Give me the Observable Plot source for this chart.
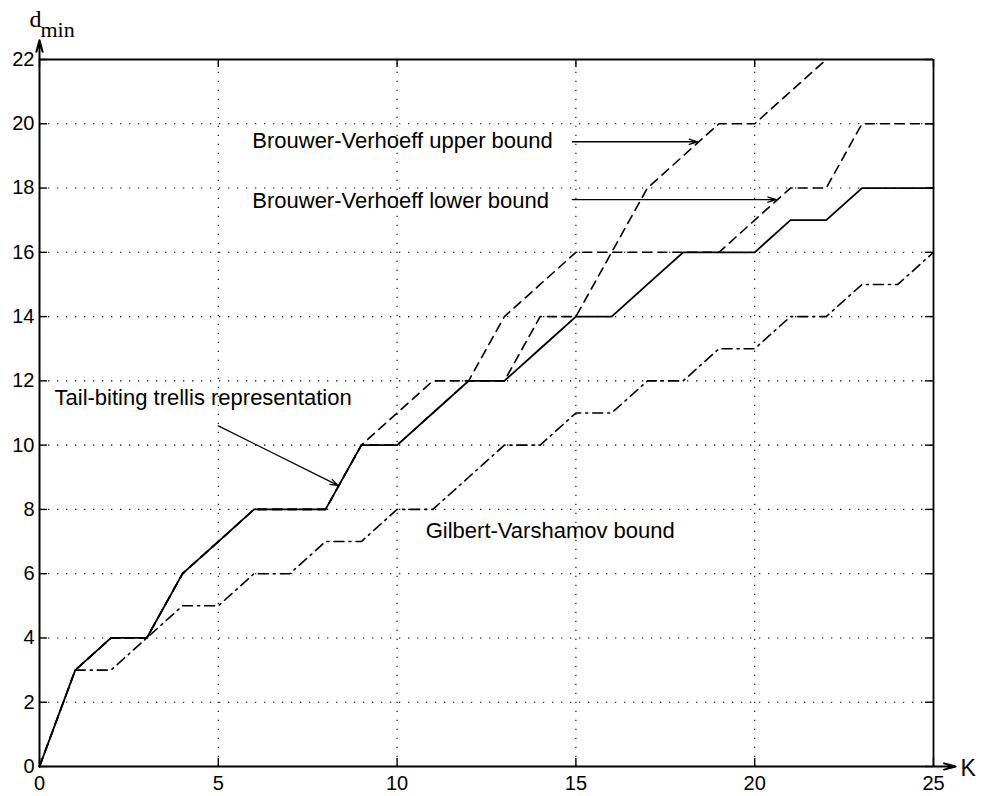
<!DOCTYPE html>
<html><head><meta charset="utf-8">
<script src="https://cdn.jsdelivr.net/npm/d3@7"></script>
<script src="https://cdn.jsdelivr.net/npm/@observablehq/plot@0.6"></script>
<style>body{margin:0;background:#fff} #chart svg{display:block}</style>
</head><body><div id="chart"></div>
<script>
// K values and curves (d_min)
const K = d3.range(0, 26);
const tailBiting = [0,3,4,4,6,7,8,8,8,10,10,11,12,12,13,14,14,15,16,16,16,17,17,18,18,18];
const bvLower    = [0,3,4,4,6,7,8,8,8,10,11,12,12,14,15,16,16,16,16,16,17,18,18,20,20,20];
const bvUpperK = d3.range(0, 23);
const bvUpper    = [0,3,4,4,6,7,8,8,8,10,10,11,12,12,14,14,16,18,19,20,20,21,22];
const gvK = d3.range(1, 26);
const gilbertVarshamov = [3,3,4,5,5,6,6,7,7,8,8,9,10,10,11,11,12,12,13,13,14,14,15,15,16];
const xTicks = [0,5,10,15,20,25];
const yTicks = [0,2,4,6,8,10,12,14,16,18,20,22];

const labelText = ["Brouwer-Verhoeff upper bound","Brouwer-Verhoeff lower bound","Tail-biting trellis representation","Gilbert-Varshamov bound"];
const labelX = [5.95, 5.95, 0.42, 10.8];
const labelY = [19.47, 17.6, 11.48, 7.34];
const arrowFrom = [[14.9,19.44],[14.9,17.64],[5.0,10.6]];
const arrowTo   = [[18.4,19.44],[20.6,17.64],[8.36,8.74]];

const xMax = 25, yMax = 22;
const W = 982, H = 796, mL = 39, mR = 49, mT = 59, mB = 30;
const tx = 8 * xMax / (W - mL - mR);   // tick length in x units
const ty = 8 * yMax / (H - mT - mB);   // tick length in y units
const toRows = (ks, vs) => ks.map((k, i) => ({k, d: vs[i]}));
const labels = labelText.map((t, i) => ({t, x: labelX[i], y: labelY[i]}));
const arrows = arrowFrom.map((a, i) => ({x1: a[0], y1: a[1], x2: arrowTo[i][0], y2: arrowTo[i][1]}));

const sans = "Liberation Sans, Arial, sans-serif";
const serif = "Liberation Serif, serif";
const tickStyle = {stroke: "#000", strokeWidth: 1.4};
const gridStyle = {stroke: "#000", strokeWidth: 1.1, strokeDasharray: "1.3,7.7"};
const chart = Plot.plot({
  width: W, height: H,
  marginLeft: mL, marginRight: mR, marginTop: mT, marginBottom: mB,
  style: {fontFamily: sans, fontSize: "20px", color: "#000", background: "#fff"},
  x: {type: "linear", domain: [0, xMax], ticks: xTicks, tickSize: 0, tickPadding: 9, label: null},
  y: {type: "linear", domain: [0, yMax], ticks: yTicks, tickSize: 0, tickPadding: 5, label: null},
  marks: [
    // dotted grid
    Plot.ruleX(xTicks.filter(v => v > 0 && v < xMax), {x: d => d, y1: 0, y2: yMax, ...gridStyle}),
    Plot.ruleY(yTicks.filter(v => v > 0 && v < yMax), {y: d => d, x1: 0, x2: xMax, ...gridStyle}),
    // inward ticks
    Plot.ruleX(xTicks, {x: d => d, y1: 0, y2: ty, ...tickStyle}),
    Plot.ruleX(xTicks, {x: d => d, y1: yMax, y2: yMax - ty, ...tickStyle}),
    Plot.ruleY(yTicks, {y: d => d, x1: 0, x2: tx, ...tickStyle}),
    Plot.ruleY(yTicks, {y: d => d, x1: xMax, x2: xMax - tx, ...tickStyle}),
    // frame: top and right
    Plot.ruleY([yMax], {x1: 0, x2: xMax, stroke: "#000", strokeWidth: 1.8}),
    Plot.ruleX([xMax], {y1: 0, y2: yMax, stroke: "#000", strokeWidth: 1.8}),
    // axis arrows
    Plot.arrow([0], {x1: 0, y1: 0, x2: 0, y2: yMax + 0.6, stroke: "#000", strokeWidth: 2, headLength: 9, headAngle: 30}),
    Plot.arrow([0], {x1: 0, y1: 0, x2: xMax + 0.62, y2: 0, stroke: "#000", strokeWidth: 2, headLength: 9, headAngle: 30}),
    // curves
    Plot.line(toRows(gvK, gilbertVarshamov), {x: "k", y: "d", stroke: "#000", strokeWidth: 1.6, strokeDasharray: "10,5,2,5"}),
    Plot.line(toRows(K, bvLower), {x: "k", y: "d", stroke: "#000", strokeWidth: 1.6, strokeDasharray: "9,6"}),
    Plot.line(toRows(bvUpperK, bvUpper), {x: "k", y: "d", stroke: "#000", strokeWidth: 1.6, strokeDasharray: "9,6"}),
    Plot.line(toRows(K, tailBiting), {x: "k", y: "d", stroke: "#000", strokeWidth: 1.8}),
    // annotations
    Plot.text(labels, {x: "x", y: "y", text: "t", textAnchor: "start", fontSize: 22, fontFamily: sans, fill: "#000"}),
    Plot.arrow(arrows, {x1: "x1", y1: "y1", x2: "x2", y2: "y2", stroke: "#000", strokeWidth: 1.3, headLength: 10, headAngle: 35}),
    // axis titles
    Plot.text(["K"], {frameAnchor: "bottom-right", lineAnchor: "middle", textAnchor: "start", dx: 27, dy: 2, fontSize: 23, fontFamily: sans, fill: "#000"}),
    Plot.text(["d"], {frameAnchor: "top-left", lineAnchor: "middle", textAnchor: "start", dx: -10, dy: -40, fontSize: 24, fontFamily: serif, fill: "#000"}),
    Plot.text(["min"], {frameAnchor: "top-left", lineAnchor: "middle", textAnchor: "start", dx: 1, dy: -30, fontSize: 22, fontFamily: serif, fill: "#000"})
  ]
});
document.getElementById("chart").append(chart);
</script>
</body></html>
